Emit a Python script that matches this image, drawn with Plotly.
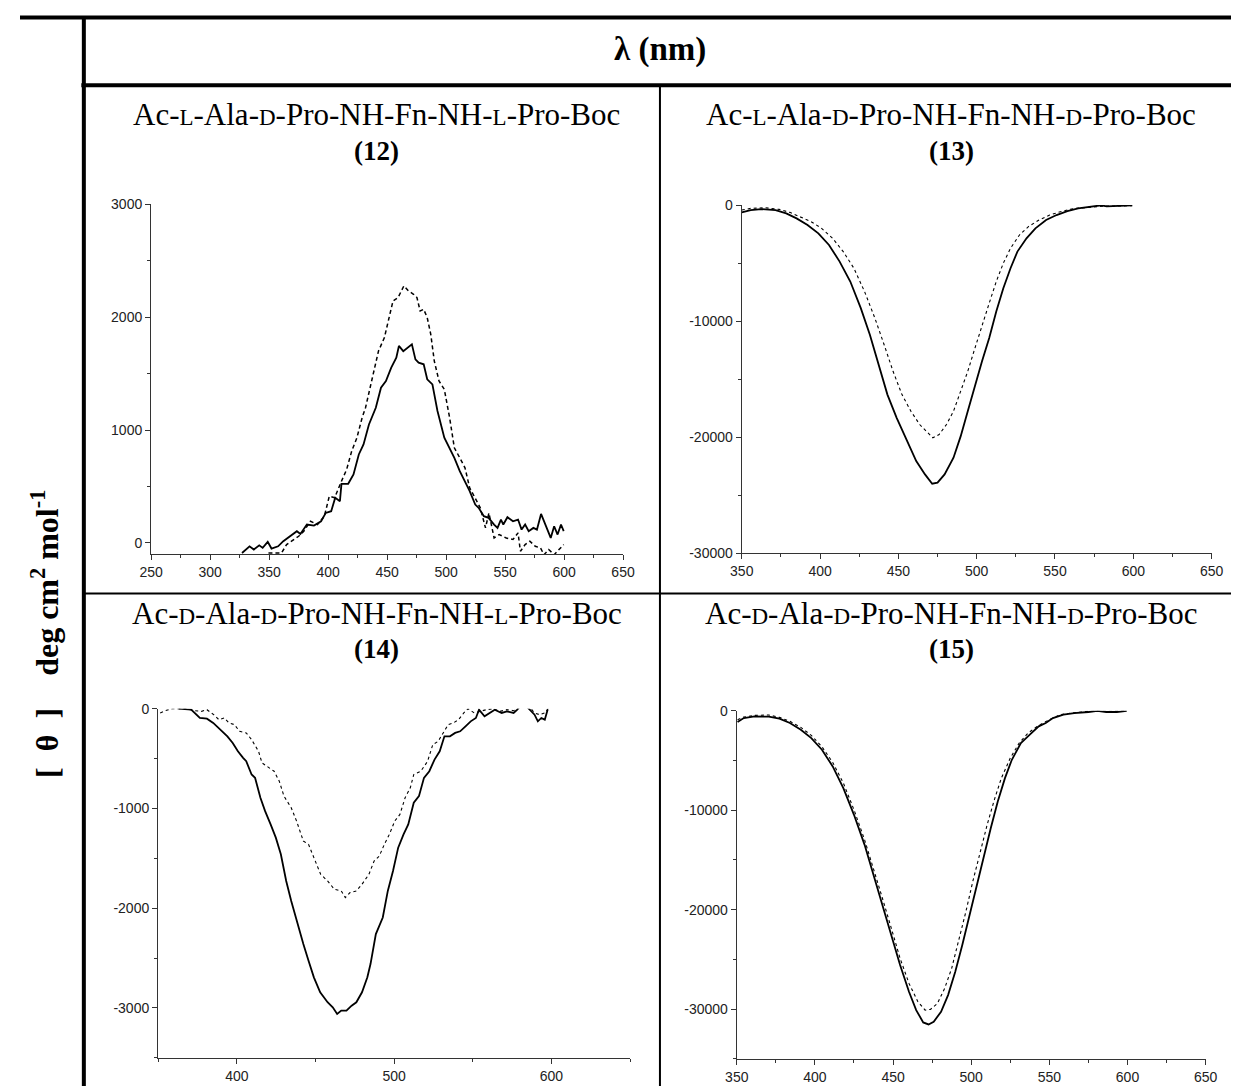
import plotly.graph_objects as go

W, H = 1239, 1086

# ---- data ----
# (12)
wl12_solid = [327, 333.4, 337, 341.6, 344.5, 348.8, 352, 357.6, 362, 366, 373.5, 376.5, 382, 388, 394, 398,
              402.6, 406, 410, 411.3, 417, 421.5, 426, 430, 434.6, 440.4, 444.8, 449, 453.5, 457.8, 460,
              463.7, 467.4, 471, 474, 476.7, 481, 484, 488.4, 492.7, 498.5, 504, 507, 511.6, 516, 520,
              524.7, 527.6, 532, 536, 540.7, 543.6, 546.5, 548.5, 552, 556.7, 561, 564, 567, 570, 574,
              577, 580.5, 583, 585.8, 588.7, 591.6, 594.5, 597.4, 599.7]
cd12_solid = [-89, -30, -59, -21, -44, 9, -50, -30, 15, 44, 104, 80, 163, 154, 192, 266,
              281, 400, 370, 524, 524, 607, 784, 873, 1050, 1198, 1376, 1435, 1553, 1642, 1746,
              1700, 1731, 1760, 1627, 1598, 1583, 1450, 1405, 1169, 932, 814, 754, 636, 547, 459,
              340, 311, 237, 222, 163, 133, 207, 163, 228, 192, 207, 118, 163, 104, 133,
              118, 257, 192, 133, 44, 148, 74, 163, 104]
wl12_dash = [349.4, 360.5, 364.8, 369, 375, 379.4, 385, 391, 396.8, 401, 405.5, 411.3, 415.7, 420, 424.4,
             428.8, 431.7, 437.5, 442.7, 447.7, 452, 455, 459.3, 464.2, 468, 472.4, 475.3, 478, 481, 484,
             487, 490, 494, 498.5, 503, 507, 511.6, 516, 520, 524.7, 529, 533.4, 536.3, 540.7, 545, 551,
             556.7, 561, 563, 567, 571, 575.6, 580, 583, 587, 591.6, 596, 599.7]
cd12_dash = [-89, -89, -15, 15, 59, 104, 192, 163, 237, 414, 400, 547, 651, 814, 932,
             1109, 1198, 1464, 1701, 1820, 1997, 2145, 2175, 2278, 2234, 2204, 2175, 2056, 2071, 1997,
             1849, 1612, 1435, 1361, 1109, 843, 754, 666, 488, 400, 311, 133, 266, 44, 74, 44,
             30, 89, -74, -15, 15, -30, -44, -104, -59, -104, -59, -15]

# (13)
wl13_solid = [350, 355.7, 362.5, 371.6, 378.4, 385, 392, 398.9, 405.7, 412.5, 419.3, 426, 431.8, 437.5, 443,
              448.9, 455.7, 461.4, 467, 471.6, 475, 479.5, 485.2, 489.8, 494.3, 498.9, 503.4, 508, 512.5,
              517, 521.6, 526, 531.8, 537.5, 544.3, 551, 557.9, 564.8, 571.6, 579.5, 583, 589.8, 599.3]
cd13_solid = [-630, -430, -344, -430, -716, -1146, -1719, -2436, -3438, -4871, -6590, -8883, -11175, -13754, -16332,
              -18338, -20344, -22063, -23209, -24011, -23925, -23209, -21776, -19914, -17765, -15473, -13467, -11461, -9169,
              -7163, -5444, -4011, -2865, -2006, -1289, -860, -516, -287, -143, -20, -115, -86, -20]
wl13_dot = [350, 355.7, 364.8, 373.9, 380.7, 387.5, 394.3, 401, 408, 414.8, 421.6, 428.4, 435, 440.9, 446.6,
            452.3, 458, 463.6, 469.3, 472, 476, 480.7, 485.2, 489.8, 494.3, 498.9, 503.4, 508, 512.5, 517,
            521.6, 527.3, 533, 539.8, 546.6, 553.4, 562.5, 571.6, 583, 599.3]
cd13_dot = [-430, -287, -229, -372, -630, -1003, -1433, -2006, -2865, -4011, -5444, -7450, -9742, -12034, -14327,
            -16332, -17765, -18911, -19713, -20057, -19771, -18911, -17765, -16046, -14327, -12321, -10315, -8453, -6590, -5014,
            -3725, -2579, -1862, -1289, -860, -573, -287, -172, -86, -57]

# (14)
wl14_solid = [363, 371, 376.5, 381, 385, 389.7, 394, 397.4, 400.7, 404, 406, 409.4, 411.6, 415, 418, 421.5,
              424.8, 428, 431.4, 434.6, 438, 442.3, 445.6, 449, 453, 457.7, 461, 463.8, 466.4, 469.7, 473,
              476, 479.6, 483, 485, 488.4, 492.8, 496, 499.3, 502.6, 506, 509, 512.5, 515.8, 519, 522.4,
              525.7, 529, 532, 535.5, 538.8, 542, 545.4, 548.7, 552, 554, 557.5, 560.7, 564, 568.4, 571.7,
              576, 578.3, 582, 586, 589.3, 591.4, 593.6, 595.8, 597.6]
cd14_solid = [0, -10, -93, -100, -143, -210, -277, -343, -427, -493, -527, -660, -693, -893, -1027, -1160,
              -1293, -1460, -1727, -1927, -2127, -2360, -2527, -2693, -2843, -2943, -2993, -3060, -3027, -3027, -2977,
              -2943, -2843, -2693, -2560, -2260, -2093, -1827, -1627, -1393, -1260, -1160, -943, -877, -693, -627,
              -510, -427, -277, -277, -243, -227, -177, -127, -93, -10, -77, -43, -10, -43, -27,
              -43, -10, 60, -10, -60, -127, -93, -110, -10]
wl14_dot = [351.3, 354.6, 359, 367.8, 373.3, 377.6, 381, 385.3, 388.6, 392, 395, 398.5, 401.8, 406, 409.4,
            413.8, 416, 420.4, 423.7, 427, 430, 434.6, 438, 442.3, 445.6, 449, 453.3, 457.7, 462, 466.4,
            469, 472, 476, 479.6, 484, 487.3, 490.6, 493.8, 497, 500.4, 503.7, 507, 510.3, 512.5, 517,
            521.3, 524.6, 528, 531, 534.4, 537.7, 541, 544.3, 547, 551, 554, 558.6, 563, 567.3, 571.7,
            576, 578.3, 582, 587, 589.3, 592.5, 595.8, 598]
cd14_dot = [-43, -20, 0, 0, -20, -27, -10, -60, -110, -93, -143, -160, -227, -243, -310,
            -427, -543, -593, -627, -727, -877, -993, -1127, -1327, -1360, -1493, -1660, -1727, -1810, -1827,
            -1893, -1843, -1827, -1760, -1660, -1527, -1477, -1360, -1260, -1127, -1060, -893, -793, -660, -627,
            -527, -360, -327, -243, -160, -143, -110, -43, 0, -43, -27, -10, 0, -27, -10,
            -20, 0, 50, 0, -43, -60, -43, 0]

# (15)
wl15_solid = [350.5, 354.5, 361.4, 370.5, 377.3, 384, 391, 397.7, 404.5, 411.4, 418.2, 425, 431.8, 437.5, 443.2,
              448.9, 454.5, 460.2, 464.8, 469.3, 472.7, 476, 480.7, 485.2, 489.8, 494.3, 498.9, 503.4, 508,
              512.5, 517, 521.6, 526, 531.8, 537.5, 543.2, 547.7, 552.3, 559, 565.9, 575, 580.7, 586.4, 593.2, 599.5]
cd15_solid = [-1141, -738, -570, -604, -805, -1242, -1913, -2752, -3926, -5604, -7785, -10470, -13490, -16510, -19530,
              -22550, -25570, -28255, -30100, -31342, -31544, -31275, -30268, -28591, -26242, -23557, -20537, -17517, -14497,
              -11812, -9128, -6779, -4933, -3255, -2416, -1577, -1242, -738, -403, -235, -134, -20, -134, -134, -20]
wl15_dot = [350.5, 354.5, 361.4, 370.5, 377.3, 384, 391, 397.7, 404.5, 411.4, 418.2, 425, 431.8, 437.5, 443.2,
            448.9, 454.5, 460.2, 465.9, 470.5, 473.9, 478.4, 483, 487.5, 492, 496.6, 501, 505.7, 510.2, 514.8,
            519.3, 525, 530.7, 536.4, 543.2, 550, 556.8, 565.9, 575, 586.4, 599.5]
cd15_dot = [-906, -638, -470, -436, -671, -1074, -1678, -2483, -3624, -5201, -7282, -9966, -12987, -15839, -18859,
            -21879, -24899, -27416, -29262, -30101, -30034, -29430, -27919, -25906, -23221, -20201, -17181, -14161, -11477, -8960,
            -6779, -4765, -3255, -2248, -1477, -906, -403, -201, -67, -67, -20]

# tick labels
xt_a = [250, 300, 350, 400, 450, 500, 550, 600, 650]
xt_b = [350, 400, 450, 500, 550, 600, 650]
xt_c = [400, 500, 600]
yt12 = [0, 1000, 2000, 3000]
yt13 = [0, -10000, -20000, -30000]
yt14 = [0, -1000, -2000, -3000]
yt15 = [0, -10000, -20000, -30000]

# the screenshot lands slightly shifted/shrunk; map wanted screen px -> figure fraction
OX, KX, OY, KY = 18.5, 0.983, 14.1, 0.986


def px(s):
    return max(0.0, min(1.0, (s - OX) / KX / W))


def py(s):
    return max(0.0, min(1.0, 1 - (s - OY) / KY / H))


fig = go.Figure()

solid = dict(color="black", width=1.8)
dotted = dict(color="black", width=1.1, dash="dot")

fig.add_trace(go.Scatter(x=wl12_solid, y=cd12_solid, mode="lines", line=solid, xaxis="x", yaxis="y"))
fig.add_trace(go.Scatter(x=wl12_dash, y=cd12_dash, mode="lines",
                         line=dict(color="black", width=1.5, dash="4px,3px"), xaxis="x", yaxis="y"))
fig.add_trace(go.Scatter(x=wl13_solid, y=cd13_solid, mode="lines", line=solid, xaxis="x2", yaxis="y2"))
fig.add_trace(go.Scatter(x=wl13_dot, y=cd13_dot, mode="lines", line=dotted, xaxis="x2", yaxis="y2"))
fig.add_trace(go.Scatter(x=wl14_solid, y=cd14_solid, mode="lines", line=solid, xaxis="x3", yaxis="y3"))
fig.add_trace(go.Scatter(x=wl14_dot, y=cd14_dot, mode="lines", line=dotted, xaxis="x3", yaxis="y3"))
fig.add_trace(go.Scatter(x=wl15_solid, y=cd15_solid, mode="lines", line=solid, xaxis="x4", yaxis="y4"))
fig.add_trace(go.Scatter(x=wl15_dot, y=cd15_dot, mode="lines", line=dotted, xaxis="x4", yaxis="y4"))

tickfont = dict(family="Arial, Liberation Sans, sans-serif", size=14, color="#222")
axbase = dict(showline=True, linecolor="#333", linewidth=1.3, ticks="outside", ticklen=5,
              tickcolor="#333", tickwidth=1.2, showgrid=False, zeroline=False, tickfont=tickfont,
              fixedrange=True)


def lab(v):
    return "-" + str(-v) if v < 0 else str(v)


def xa(domain, anchor, rng, tv, minor):
    return dict(axbase, domain=domain, anchor=anchor, range=rng, tickvals=tv, ticktext=[lab(v) for v in tv],
                minor=dict(dtick=minor, tick0=rng[0], ticks="outside", ticklen=3, tickcolor="#333",
                           showgrid=False))


def ya(domain, anchor, rng, tv, minor):
    return dict(axbase, domain=domain, anchor=anchor, range=rng, tickvals=tv, ticktext=[lab(v) for v in tv],
                minor=dict(dtick=minor, tick0=0, ticks="outside", ticklen=3, tickcolor="#333", showgrid=False))


p1x = [px(150), px(623)]
p1y = [py(552.7), py(202.7)]
p2x = [px(742), px(1213)]
p2y = [py(551.7), py(203.3)]
p3x = [px(157), px(630)]
p3y = [py(1056.7), py(707.3)]
p4x = [px(737), px(1207)]
p4y = [py(1057.7), py(709.3)]

fig.update_layout(
    width=W, height=H, margin=dict(l=0, r=0, t=0, b=0),
    paper_bgcolor="white", plot_bgcolor="white", showlegend=False,
    xaxis=xa(p1x, "y", [250, 650], xt_a, 25),
    yaxis=ya(p1y, "x", [-100, 3000], yt12, 500),
    xaxis2=xa(p2x, "y2", [350, 650], xt_b, 25),
    yaxis2=ya(p2y, "x2", [-30000, 0], yt13, 5000),
    xaxis3=xa(p3x, "y3", [350, 650], xt_c, 50),
    yaxis3=ya(p3y, "x3", [-3500, 0], yt14, 500),
    xaxis4=xa(p4x, "y4", [350, 650], xt_b, 25),
    yaxis4=ya(p4y, "x4", [-35000, 0], yt15, 5000),
)

# table frame
shapes = [
    dict(x0=px(12), x1=1, y0=py(15.7), y1=py(15.7), w=4),
    dict(x0=px(80), x1=1, y0=py(83.5), y1=py(83.5), w=4),
    dict(x0=px(82.5), x1=px(82.5), y0=py(14), y1=0, w=4),
    dict(x0=px(660), x1=px(660), y0=py(85), y1=0, w=2),
    dict(x0=px(82), x1=1, y0=py(592), y1=py(592), w=2),
]
for s in shapes:
    fig.add_shape(type="line", xref="paper", yref="paper", x0=s["x0"], x1=s["x1"], y0=s["y0"], y1=s["y1"],
                  line=dict(color="black", width=s["w"]))

serif = "Times New Roman, Liberation Serif, serif"


def sc(ch):
    return f"<span style='font-size:23px'>{ch}</span>"


titles = [
    (f"Ac-{sc('L')}-Ala-{sc('D')}-Pro-NH-Fn-NH-{sc('L')}-Pro-Boc", "(12)", 376, 113),
    (f"Ac-{sc('L')}-Ala-{sc('D')}-Pro-NH-Fn-NH-{sc('D')}-Pro-Boc", "(13)", 952, 113),
    (f"Ac-{sc('D')}-Ala-{sc('D')}-Pro-NH-Fn-NH-{sc('L')}-Pro-Boc", "(14)", 376, 612),
    (f"Ac-{sc('D')}-Ala-{sc('D')}-Pro-NH-Fn-NH-{sc('D')}-Pro-Boc", "(15)", 952, 612),
]
for t, num, cx, cy in titles:
    fig.add_annotation(x=px(cx), y=py(cy), xref="paper", yref="paper", text=t, showarrow=False,
                       xanchor="center", yanchor="middle", font=dict(family=serif, size=31, color="black"))
    fig.add_annotation(x=px(cx), y=py(cy + 36), xref="paper", yref="paper", text=f"<b>{num}</b>",
                       showarrow=False, xanchor="center", yanchor="middle",
                       font=dict(family=serif, size=27, color="black"))

fig.add_annotation(x=px(660), y=py(48), xref="paper", yref="paper", text="<b>λ (nm)</b>", showarrow=False,
                   xanchor="center", yanchor="middle", font=dict(family=serif, size=33, color="black"))

fig.add_annotation(x=px(44), y=py(632), xref="paper", yref="paper",
                   text="<b>[  θ  ]    deg cm<sup>2</sup> mol<sup>-1</sup></b>", showarrow=False, textangle=-90,
                   xanchor="center", yanchor="middle", font=dict(family=serif, size=32, color="black"))

fig.write_html("out.html")
